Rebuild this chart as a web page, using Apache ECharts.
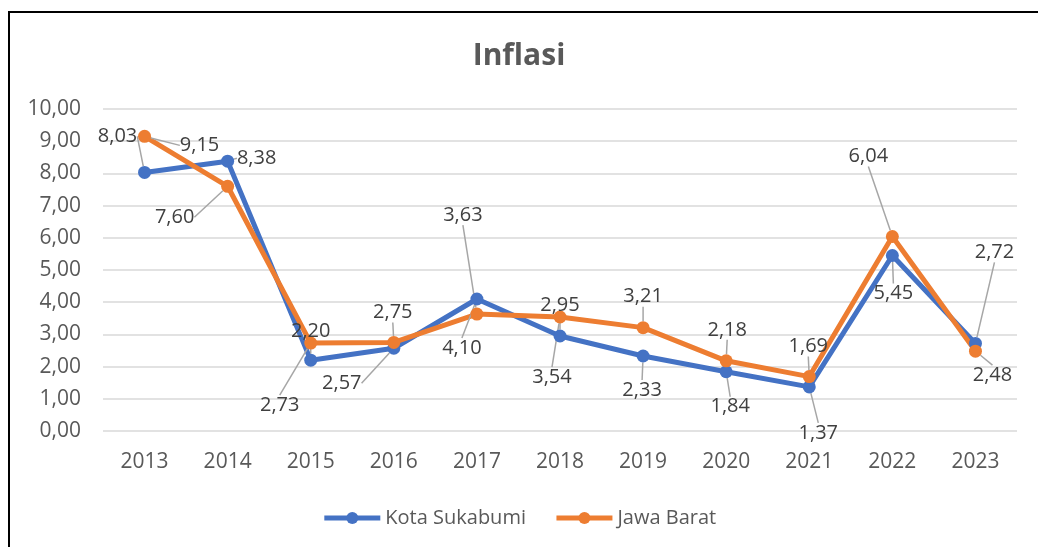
<!DOCTYPE html>
<html>
<head>
<meta charset="utf-8">
<script src="https://cdn.jsdelivr.net/npm/echarts@6/dist/echarts.min.js"></script>
<style>
  html, body { margin: 0; padding: 0; background: #fff; }
  #box { width: 1038px; height: 547px; }
</style>
</head>
<body>
<div id="box"></div>
<script>
// 数据
var years = ["2013", "2014", "2015", "2016", "2017", "2018", "2019", "2020", "2021", "2022", "2023"]
var kotaSukabumi = [8.03, 8.38, 2.20, 2.57, 4.10, 2.95, 2.33, 1.84, 1.37, 5.45, 2.72]
var jawaBarat = [9.15, 7.60, 2.73, 2.75, 3.63, 3.54, 3.21, 2.18, 1.69, 6.04, 2.48]

// 标签偏移 (像素, 相对数据点)
var sukabumiLabelShift = [[-27, -36], [29, -3], [0, -29], [-52, 35], [-15, 49], [0, -31], [-1, 34], [4, 35], [9, 46], [1, 38], [19, -91]]
var jabarLabelShift = [[55, 9], [-53, 31], [-31, 62], [-1, -30], [-14, -99], [-8, 60], [0, -31], [1, -31], [-1, -30], [-24, -80], [17, 24]]

var fontName = "'Open Sans', 'Noto Sans', sans-serif"

function fmt(v) {
    return v.toFixed(2).replace(".", ",")
}

function makeSeries(name, values, color, shift) {
    return {
        name: name,
        type: 'line',
        data: values,
        symbol: 'circle',
        symbolSize: 13,
        lineStyle: { width: 5, color: color },
        itemStyle: { color: color },
        label: {
            show: true,
            position: 'inside',
            color: '#404040',
            fontSize: 20,
            fontFamily: fontName,
            formatter: function (p) { return fmt(p.value) }
        },
        labelLine: {
            show: true,
            lineStyle: { color: '#a6a6a6', width: 1.5 }
        },
        labelLayout: function (p) {
            var s = shift[p.dataIndex]
            return { dx: s[0], dy: s[1] }
        },
        emphasis: { disabled: true },
        animation: false
    }
}

var box = document.getElementById("box")
var chart = echarts.init(box)

var option = {
    animation: false,
    title: {
        text: 'Inflasi',
        left: 'center',
        top: 36,
        textStyle: { color: '#595959', fontSize: 30, fontWeight: 'bold', fontFamily: fontName }
    },
    legend: {
        bottom: 14,
        left: 'center',
        itemWidth: 56,
        itemHeight: 15,
        itemGap: 28,
        lineStyle: { width: 5 },
        textStyle: { color: '#595959', fontSize: 20, fontFamily: fontName },
        data: ['Kota Sukabumi', 'Jawa Barat']
    },
    grid: { left: 103, right: 21, top: 109, bottom: 116 },
    xAxis: {
        type: 'category',
        data: years,
        axisLine: { show: false },
        axisTick: { show: false },
        axisLabel: { color: '#595959', fontSize: 21, margin: 21, fontFamily: fontName }
    },
    yAxis: {
        type: 'value',
        min: 0,
        max: 10,
        interval: 1,
        axisLabel: {
            color: '#595959', fontSize: 21, margin: 22, fontFamily: fontName,
            formatter: function (v) { return fmt(v) }
        },
        splitLine: { lineStyle: { color: '#d9d9d9', width: 1.5 } }
    },
    graphic: [{
        type: 'rect',
        shape: { x: 9, y: 12, width: 1050, height: 560 },
        style: { fill: 'none', stroke: '#000', lineWidth: 2 },
        silent: true
    }],
    series: [
        makeSeries('Kota Sukabumi', kotaSukabumi, '#4472C4', sukabumiLabelShift),
        makeSeries('Jawa Barat', jawaBarat, '#ED7D31', jabarLabelShift)
    ]
}

chart.setOption(option)
</script>
</body>
</html>
